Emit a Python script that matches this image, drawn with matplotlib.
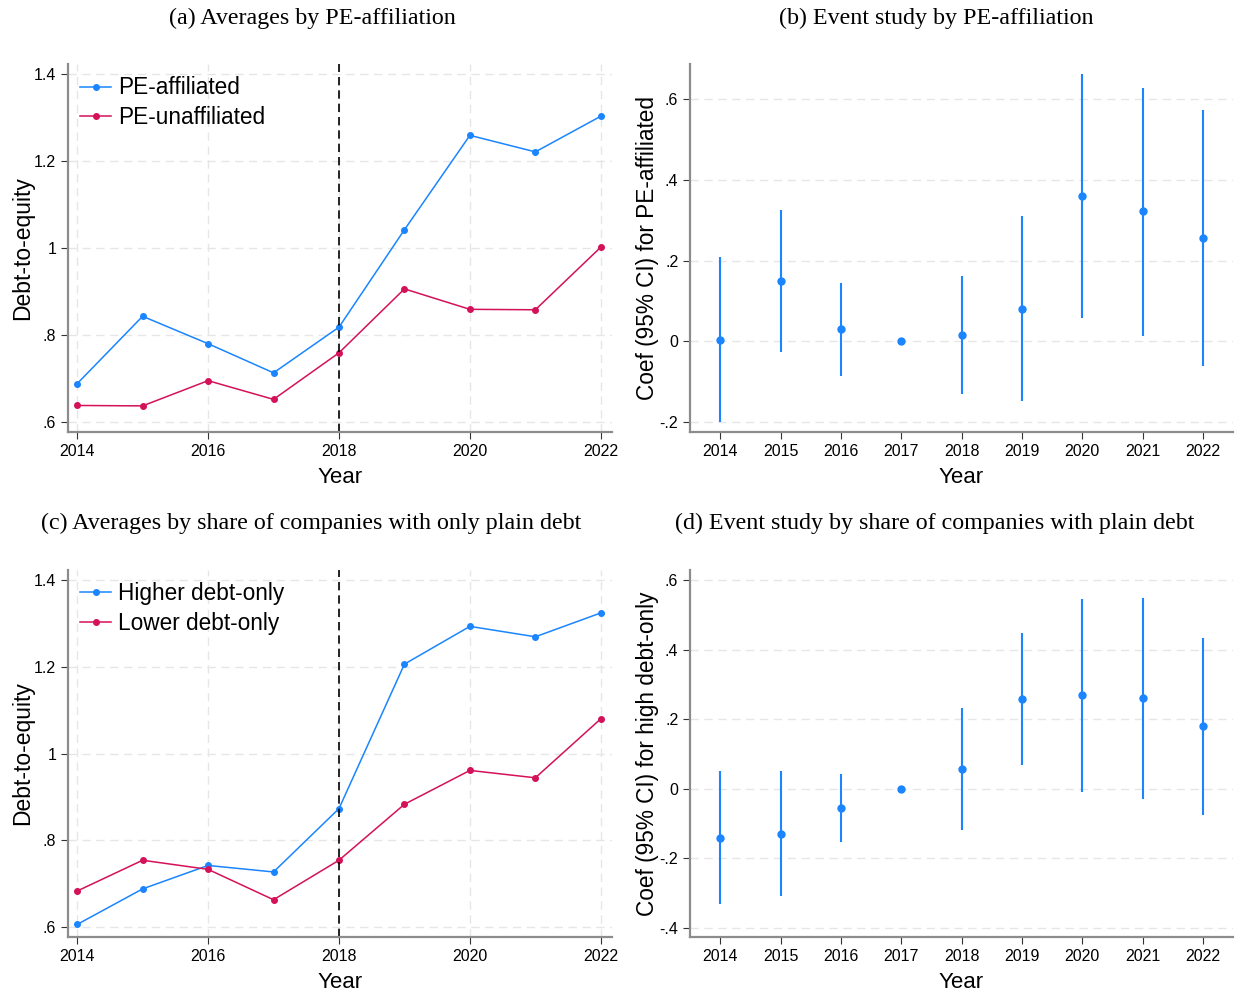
import numpy as np
import matplotlib
matplotlib.use("Agg")
from matplotlib import pyplot as plt
from matplotlib.ticker import FuncFormatter

years = [2014, 2015, 2016, 2017, 2018, 2019, 2020, 2021, 2022]

# (a) averages by PE-affiliation
pe_aff = [0.688, 0.843, 0.780, 0.713, 0.818, 1.042, 1.259, 1.221, 1.303]
pe_unaff = [0.638, 0.637, 0.695, 0.652, 0.759, 0.906, 0.859, 0.858, 1.002]

# (b) event study by PE-affiliation
coef_b = [0.004, 0.149, 0.030, 0.0, 0.016, 0.081, 0.361, 0.322, 0.257]
lo_b = [-0.201, -0.027, -0.085, 0.0, -0.132, -0.148, 0.058, 0.014, -0.061]
hi_b = [0.209, 0.324, 0.144, 0.0, 0.162, 0.310, 0.663, 0.628, 0.574]

# (c) averages by share of debt-only companies
hi_debt = [0.606, 0.688, 0.742, 0.727, 0.873, 1.206, 1.293, 1.269, 1.324]
lo_debt = [0.683, 0.754, 0.733, 0.663, 0.754, 0.883, 0.961, 0.944, 1.080]

# (d) event study by share of debt-only companies
coef_d = [-0.140, -0.130, -0.056, 0.0, 0.056, 0.259, 0.269, 0.261, 0.180]
lo_d = [-0.330, -0.309, -0.153, 0.0, -0.119, 0.069, -0.008, -0.029, -0.075]
hi_d = [0.050, 0.050, 0.042, 0.0, 0.231, 0.449, 0.546, 0.549, 0.434]

BLUE = "#1A85FF"
RED = "#D41159"
GRID = "#E6E6E6"
SPINE = "#8C8C8C"

plt.rcParams["font.family"] = ["Liberation Sans", "DejaVu Sans"]


def stata_fmt(v, pos):
    s = "%g" % round(v, 3)
    if s.startswith("0.") and len(s) > 1:
        s = s[1:]
    elif s.startswith("-0."):
        s = "-" + s[2:]
    return s


def style(ax, vgrid):
    for side in ["top", "right"]:
        ax.spines[side].set_visible(False)
    for side in ["left", "bottom"]:
        ax.spines[side].set_color(SPINE)
        ax.spines[side].set_linewidth(1.6)
    ax.tick_params(axis="both", labelsize=11.5, length=5, width=0.8, color="#333333", direction="out")
    ax.yaxis.grid(True, color=GRID, linestyle=(0, (6, 4)), linewidth=1.0)
    if vgrid:
        ax.xaxis.grid(True, color=GRID, linestyle=(0, (6, 4)), linewidth=1.0)
    else:
        ax.xaxis.grid(False)
    ax.set_axisbelow(True)
    ax.yaxis.set_major_formatter(FuncFormatter(stata_fmt))
    ax.set_xlabel("Year", fontsize=16, labelpad=6)


def averages(ax, s1, s2, l1, l2):
    ax.plot(years, s1, color=BLUE, marker="o", markersize=4, linewidth=1.1, label=l1)
    ax.plot(years, s2, color=RED, marker="o", markersize=4, linewidth=1.1, label=l2)
    ax.axvline(2018, color="black", linestyle=(0, (5, 3)), linewidth=1.2)
    ax.set_xlim(2013.86, 2022.17)
    ax.set_ylim(0.577, 1.423)
    ax.set_xticks([2014, 2016, 2018, 2020, 2022])
    ax.set_yticks([0.6, 0.8, 1.0, 1.2, 1.4])
    style(ax, True)
    ax.set_ylabel("Debt-to-equity", fontsize=16.5)
    ax.yaxis.set_label_coords(-0.063, 0.5)
    ax.legend(loc="upper left", frameon=False, fontsize=16.3, handlelength=1.35,
              handletextpad=0.3, borderaxespad=0.15, labelspacing=0.3,
              bbox_to_anchor=(0.0, 1.0))


def event(ax, coef, lo, hi, ylabel, ylim, yticks):
    c = np.array(coef)
    ax.vlines(years, lo, hi, color=BLUE, linewidth=1.5)
    ax.plot(years, c, "o", color=BLUE, markersize=5)
    ax.set_xlim(2013.5, 2022.5)
    ax.set_ylim(*ylim)
    ax.set_xticks(years)
    ax.set_yticks(yticks)
    style(ax, False)
    ax.set_ylabel(ylabel, fontsize=16.3)
    ax.yaxis.set_label_coords(-0.057, 0.5)


fig = plt.figure(figsize=(12.36, 9.94), dpi=100)
ax_a = fig.add_axes([0.0550, 0.5654, 0.4401, 0.3702])
ax_b = fig.add_axes([0.5583, 0.5654, 0.4393, 0.3702])
ax_c = fig.add_axes([0.0550, 0.0573, 0.4401, 0.3693])
ax_d = fig.add_axes([0.5583, 0.0573, 0.4393, 0.3693])

averages(ax_a, pe_aff, pe_unaff, "PE-affiliated", "PE-unaffiliated")
event(ax_b, coef_b, lo_b, hi_b, "Coef (95% CI) for PE-affiliated",
      (-0.225, 0.687), [-0.2, 0, 0.2, 0.4, 0.6])
averages(ax_c, hi_debt, lo_debt, "Higher debt-only", "Lower debt-only")
event(ax_d, coef_d, lo_d, hi_d, "Coef (95% CI) for high debt-only",
      (-0.426, 0.629), [-0.4, -0.2, 0, 0.2, 0.4, 0.6])

tkw = dict(fontsize=17.3, family=["Liberation Serif", "DejaVu Serif"], ha="center", va="center")
fig.text(312 / 1236, 1 - 18 / 994, "(a) Averages by PE-affiliation", **tkw)
fig.text(936 / 1236, 1 - 18 / 994, "(b) Event study by PE-affiliation", **tkw)
fig.text(311 / 1236, 1 - 523 / 994, "(c) Averages by share of companies with only plain debt", **tkw)
fig.text(935 / 1236, 1 - 523 / 994, "(d) Event study by share of companies with plain debt", **tkw)

fig.savefig("out.png", dpi=100)
